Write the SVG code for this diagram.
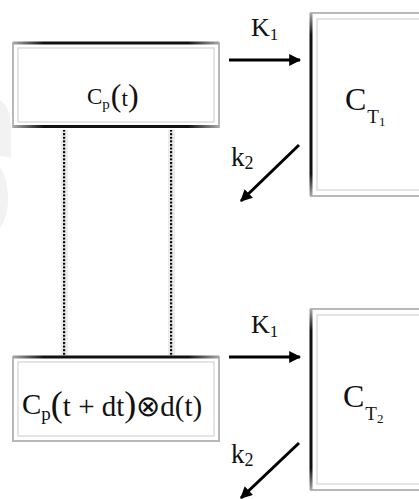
<svg xmlns="http://www.w3.org/2000/svg" width="419" height="499" viewBox="0 0 419 499">
<defs>
  <linearGradient id="hdark" x1="0" y1="0" x2="1" y2="0">
    <stop offset="0" stop-color="#aaa"/>
    <stop offset="0.15" stop-color="#111"/>
    <stop offset="0.85" stop-color="#111"/>
    <stop offset="1" stop-color="#aaa"/>
  </linearGradient>
  <linearGradient id="vdark" x1="0" y1="0" x2="0" y2="1">
    <stop offset="0" stop-color="#aaa"/>
    <stop offset="0.12" stop-color="#111"/>
    <stop offset="0.88" stop-color="#111"/>
    <stop offset="1" stop-color="#aaa"/>
  </linearGradient>
  <marker id="ah" viewBox="0 0 10 10" refX="9" refY="5" markerWidth="4" markerHeight="4" orient="auto" markerUnits="strokeWidth">
    <path d="M0,0 L10,5 L0,10 z" fill="#000"/>
  </marker>
  <pattern id="dotpat" x="0" y="0" width="2" height="3.6" patternUnits="userSpaceOnUse">
    <rect x="0" y="0" width="2" height="2" fill="#000"/>
  </pattern>
</defs>
<style>
  .outer{fill:#fff;stroke:#b8b8b8;stroke-width:2}
  .inner{fill:#fff;stroke:#dcdcdc;stroke-width:1.5}
  .arr{stroke:#000;stroke-width:3;fill:none;marker-end:url(#ah)}
  .t{font-family:"Liberation Serif","Times New Roman",serif;fill:#111}
  .halo{fill:#ececec}
</style>

<path d="M0,100 C7,104 11,114 11,128 L11,158 C8,157 4,156 0,156 Z" fill="#f2f2f2"/>
<path d="M0,168 C5,173 8,186 8,200 C8,211 5,221 0,228 Z" fill="#f2f2f2"/>

<g id="connectors">
  <rect class="halo" x="61" y="130" width="7" height="226"/>
  <rect class="halo" x="168" y="130" width="7" height="226"/>
  <rect x="63" y="130" width="2.2" height="226" fill="url(#dotpat)"/>
  <rect x="170" y="130" width="2.2" height="226" fill="url(#dotpat)"/>
  <line class="arr" x1="229" y1="60" x2="300" y2="60"/>
  <line class="arr" x1="299" y1="145" x2="241" y2="201"/>
  <line class="arr" x1="229" y1="357" x2="300" y2="357"/>
  <line class="arr" x1="299" y1="443" x2="241" y2="498"/>
  <text class="t" x="251" y="36" font-size="26">K<tspan font-size="17" dy="4">1</tspan></text>
  <text class="t" x="231" y="166" font-size="27">k<tspan font-size="18" dy="3">2</tspan></text>
  <text class="t" x="251" y="333" font-size="26">K<tspan font-size="17" dy="4">1</tspan></text>
  <text class="t" x="231" y="463" font-size="27">k<tspan font-size="18" dy="3">2</tspan></text>
</g>

<g id="node-cp">
  <rect class="outer" x="13" y="43" width="206" height="84"/>
  <rect class="inner" x="18" y="48" width="196" height="74"/>
  <rect x="13" y="41.5" width="206" height="3" fill="url(#hdark)"/>
  <rect x="13" y="125" width="206" height="3" fill="url(#hdark)"/>
  <text class="t" x="87" y="104" font-size="23">C<tspan font-size="15" dy="5">p</tspan><tspan font-size="32" dy="-3" dx="1">(</tspan><tspan font-size="23">t</tspan><tspan font-size="32">)</tspan></text>
</g>

<g id="node-ct1">
  <rect class="outer" x="311" y="13" width="112" height="183"/>
  <rect class="inner" x="317" y="19" width="104" height="171"/>
  <rect x="309.5" y="13" width="3" height="183" fill="url(#vdark)"/>
  <text class="t" x="345" y="110" font-size="32">C<tspan font-size="19" dy="13" dx="1">T</tspan><tspan font-size="13" dy="3">1</tspan></text>
</g>

<g id="node-conv">
  <rect class="outer" x="13" y="357" width="206" height="84"/>
  <rect class="inner" x="18" y="362" width="196" height="74"/>
  <rect x="13" y="355.5" width="206" height="3" fill="url(#hdark)"/>
  <text class="t" x="22" y="414" font-size="29">C<tspan font-size="19" dy="6">p</tspan><tspan font-size="36" dy="-4">(</tspan><tspan font-size="29">t + dt</tspan><tspan font-size="36">)</tspan><tspan font-size="29">⊗d(t)</tspan></text>
</g>

<g id="node-ct2">
  <rect class="outer" x="311" y="309" width="112" height="181"/>
  <rect class="inner" x="317" y="315" width="104" height="169"/>
  <rect x="309.5" y="309" width="3" height="181" fill="url(#vdark)"/>
  <text class="t" x="343" y="407" font-size="32">C<tspan font-size="19" dy="13" dx="1">T</tspan><tspan font-size="13" dy="3">2</tspan></text>
</g>
</svg>
